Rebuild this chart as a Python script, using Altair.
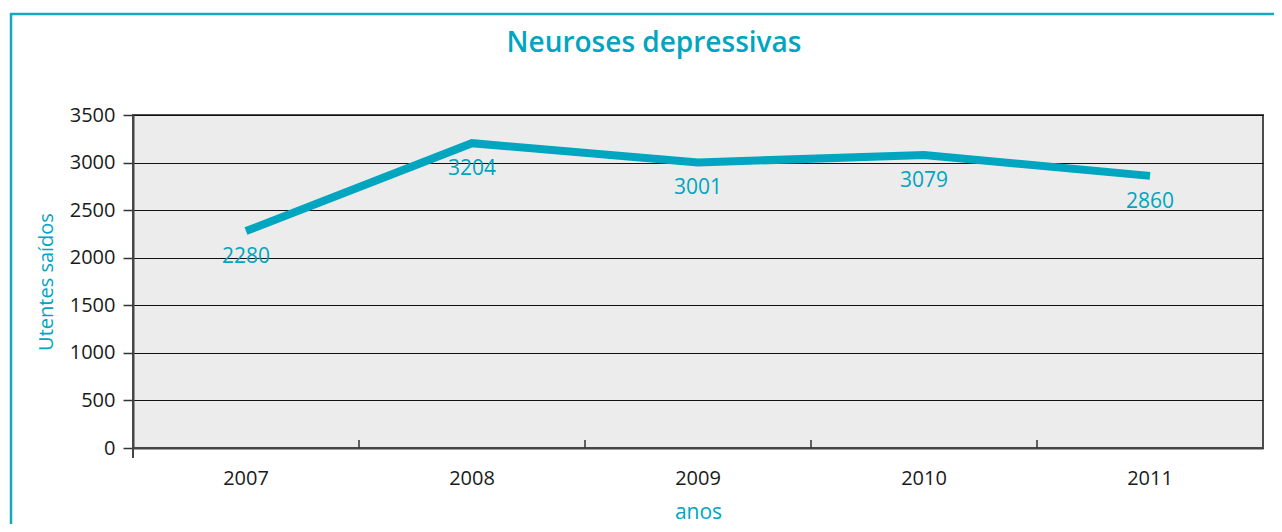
import altair as alt
import pandas as pd

years = ["2007", "2008", "2009", "2010", "2011"]
values = [2280, 3204, 3001, 3079, 2860]
y_ticks = [0, 500, 1000, 1500, 2000, 2500, 3000, 3500]

TEAL = "#00a5bf"
FONT = "Open Sans"
W, H = 1130, 333

df = pd.DataFrame({"ano": years, "valor": values})
one = pd.DataFrame({"k": [0]})
inner = pd.DataFrame({"ano": years[1:]})

xscale = alt.Scale(domain=years, paddingInner=0, paddingOuter=0)
yscale = alt.Scale(domain=[0, 3500], nice=False)

line = alt.Chart(df).mark_line(color=TEAL, strokeWidth=8, strokeCap="butt", strokeJoin="miter").encode(
    x=alt.X("ano:N", scale=xscale, sort=years,
            axis=alt.Axis(title="anos", labelAngle=0, ticks=False, tickSize=0,
                          labelFont=FONT, labelFontSize=20, labelColor="#1a1a1a",
                          labelBaseline="alphabetic", labelPadding=36,
                          domainColor="#444444", domainWidth=2,
                          titleFont=FONT, titleFontSize=21, titleFontWeight=500,
                          titleColor=TEAL, titleBaseline="alphabetic", titleY=70,
                          grid=False)),
    y=alt.Y("valor:Q", scale=yscale,
            axis=alt.Axis(title="Utentes saídos", values=y_ticks, format="d",
                          labelFont=FONT, labelFontSize=20, labelColor="#1a1a1a",
                          labelPadding=8, tickSize=10, tickColor="#333333", tickWidth=1.5,
                          domainColor="#444444", domainWidth=2,
                          grid=True, gridColor="#111111", gridWidth=1.2,
                          titleFont=FONT, titleFontSize=20, titleFontWeight=500,
                          titleColor=TEAL, titleX=-87, titleY=H / 2,
                          titleBaseline="middle", titleAlign="center", titleAngle=-90)),
)

labels = alt.Chart(df).mark_text(color=TEAL, font=FONT, fontSize=21, fontWeight=500,
                                 dy=26, baseline="middle").encode(
    x=alt.X("ano:N", scale=xscale, sort=years),
    y=alt.Y("valor:Q", scale=yscale),
    text=alt.Text("valor:Q", format="d"),
)

ticks_in = alt.Chart(inner).mark_rule(color="#333333", strokeWidth=1.5).encode(
    x=alt.X("ano:N", scale=xscale, sort=years, bandPosition=0),
    y=alt.value(H - 8),
    y2=alt.value(H),
)

ext_tick = alt.Chart(one).mark_rule(color="#444444", strokeWidth=2).encode(
    x=alt.value(0), y=alt.value(H), y2=alt.value(H + 10)
)

border_top = alt.Chart(one).mark_rule(color="#17a8c0", strokeWidth=2.5).encode(
    x=alt.value(-123), x2=alt.value(1160), y=alt.value(-101)
)
border_left = alt.Chart(one).mark_rule(color="#17a8c0", strokeWidth=2.5).encode(
    x=alt.value(-122), y=alt.value(-102), y2=alt.value(420)
)

title = alt.Chart(one).mark_text(
    text="Neuroses depressivas", color=TEAL, font=FONT, fontSize=28, fontWeight=600,
    align="center", baseline="alphabetic"
).encode(x=alt.value(521), y=alt.value(-63))

chart = alt.layer(line, labels, ticks_in, ext_tick, border_top, border_left, title).properties(
    width=W, height=H,
    autosize=alt.AutoSizeParams(type="none"),
    padding={"left": 125, "top": 107, "right": 11, "bottom": 76},
    background="white",
).configure_view(
    fill="#ececec", stroke="#4d4d4d", strokeWidth=2
)

chart.save("out.html", embed_options={"renderer": "svg", "actions": False})
